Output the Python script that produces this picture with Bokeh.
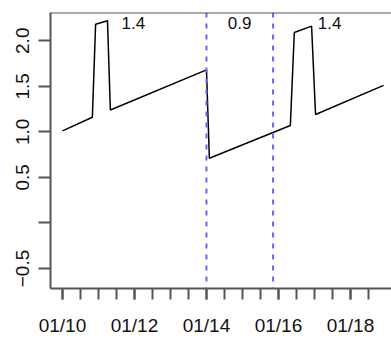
from datetime import datetime, timedelta
from bokeh.plotting import figure
from bokeh.models import Span, FixedTicker, DatetimeTickFormatter, CustomJSTickFormatter, Range1d, Label
from bokeh.embed import file_html
from bokeh.resources import INLINE

# ---- data (day of January as float) ----
day_values = [10.0, 10.83, 10.92, 11.25, 11.33, 14.0, 14.08, 16.33, 16.44, 16.92, 17.03, 18.92]
y_values = [1.01, 1.16, 2.18, 2.22, 1.24, 1.68, 0.71, 1.07, 2.09, 2.16, 1.19, 1.51]
vline_days = [14.0, 15.85]
label_days = [11.97, 14.92, 17.42]
label_texts = ["1.4", "0.9", "1.4"]
label_y = 2.19
y_major_ticks = [-0.5, 0.5, 1.0, 1.5, 2.0]
y_minor_ticks = [0.0]
x_label_days = [10, 12, 14, 16, 18]

base = datetime(2021, 1, 1)


def to_ms(d):
    dt = base + timedelta(days=d - 1)
    return (dt - datetime(1970, 1, 1)).total_seconds() * 1000.0


xs = [to_ms(d) for d in day_values]

FONT = "Liberation Sans"
AXIS_COLOR = "#555555"

p = figure(width=391, height=338, output_backend="svg", toolbar_location=None,
           x_axis_type="datetime",
           x_range=Range1d(to_ms(9.667), to_ms(19.14)),
           y_range=Range1d(-0.72, 2.31),
           min_border_left=50, min_border_right=0, min_border_top=12, min_border_bottom=50)
p.outline_line_color = None
p.grid.visible = False
p.background_fill_color = "white"
p.border_fill_color = "white"

p.line(xs, y_values, line_color="black", line_width=1.5)

for d in vline_days:
    p.add_layout(Span(location=to_ms(d), dimension="height", line_color="#6666ff",
                      line_width=2, line_dash="5 6"))

# top border line
p.add_layout(Span(location=2.31, dimension="width", line_color=AXIS_COLOR, line_width=2))

for d, t in zip(label_days, label_texts):
    p.add_layout(Label(x=to_ms(d), y=label_y, text=t, text_align="center", text_baseline="middle",
                       text_font=FONT, text_font_size="17px", text_color="#111111"))

# x axis
x_major = [to_ms(d) for d in x_label_days]
x_minor = [to_ms(10 + 0.5 * i) for i in range(18)]
xa = p.xaxis[0]
xa.ticker = FixedTicker(ticks=x_major, minor_ticks=x_minor)
xa.formatter = DatetimeTickFormatter(days="%m/%d", hours="%m/%d", months="%m/%d", minutes="%m/%d")
xa.major_tick_out = 11
xa.major_tick_in = 0
xa.minor_tick_out = 11
xa.minor_tick_in = 0
xa.major_label_standoff = 15

# y axis
ya = p.yaxis[0]
ya.ticker = FixedTicker(ticks=y_major_ticks, minor_ticks=y_minor_ticks)
ya.formatter = CustomJSTickFormatter(code="return tick < 0 ? '\\u2212' + (-tick).toFixed(1) : tick.toFixed(1);")
ya.major_label_orientation = "vertical"
ya.major_tick_out = 12
ya.major_tick_in = 0
ya.minor_tick_out = 12
ya.minor_tick_in = 0
ya.major_label_standoff = 9

for ax in (xa, ya):
    ax.axis_line_color = AXIS_COLOR
    ax.axis_line_width = 2
    ax.major_tick_line_color = AXIS_COLOR
    ax.major_tick_line_width = 2
    ax.minor_tick_line_color = AXIS_COLOR
    ax.minor_tick_line_width = 2
    ax.major_label_text_font = FONT
    ax.major_label_text_font_size = "19px"
    ax.major_label_text_color = "#111111"

open("out.html", "w").write(file_html(p, INLINE))
